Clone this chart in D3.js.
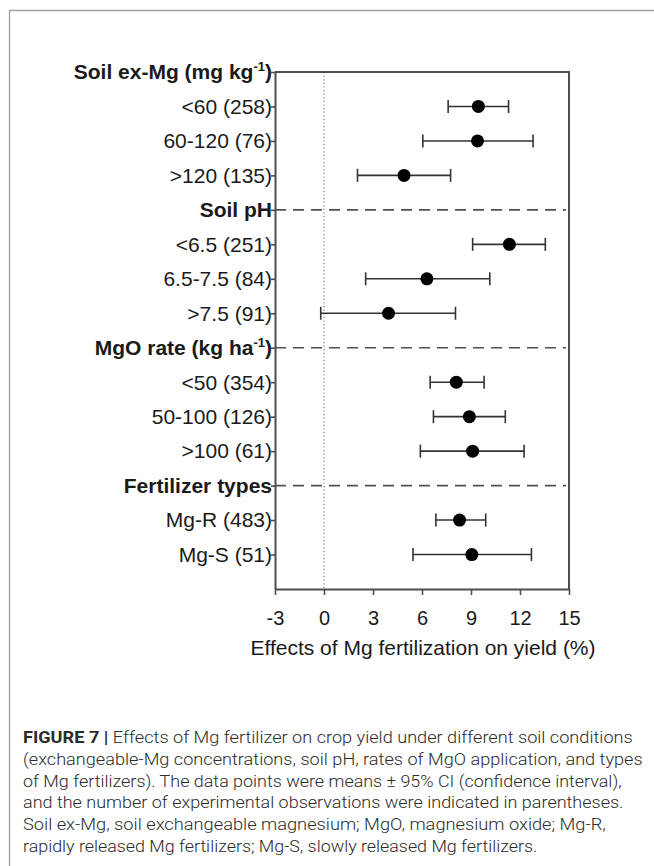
<!DOCTYPE html>
<html>
<head>
<meta charset="utf-8">
<script src="https://cdn.jsdelivr.net/npm/d3@7"></script>
<style>
  body { margin: 0; background: #fff; }
  svg { display: block; }
</style>
</head>
<body>
<div id="chart"></div>
<script>
// rows of the forest plot, top to bottom
var rowLabels = ["Soil ex-Mg (mg kg", "<60 (258)", "60-120 (76)", ">120 (135)",
    "Soil pH", "<6.5 (251)", "6.5-7.5 (84)", ">7.5 (91)",
    "MgO rate (kg ha", "<50 (354)", "50-100 (126)", ">100 (61)",
    "Fertilizer types", "Mg-R (483)", "Mg-S (51)"];
var headerSup = ["-1", null, null, null, "", null, null, null, "-1", null, null, null, "", null, null];

// mean effect and 95% CI (%)
var means = [null, 9.45, 9.4, 4.9, null, 11.35, 6.3, 3.95, null, 8.1, 8.9, 9.1, null, 8.3, 9.05];
var lower = [null, 7.6, 6.05, 2.05, null, 9.1, 2.55, -0.2, null, 6.5, 6.7, 5.9, null, 6.85, 5.45];
var upper = [null, 11.3, 12.8, 7.75, null, 13.55, 10.15, 8.05, null, 9.8, 11.1, 12.25, null, 9.9, 12.7];

var xTicks = [-3, 0, 3, 6, 9, 12, 15];
var xTitle = "Effects of Mg fertilization on yield (%)";

var captionHead = "FIGURE 7";
var captionLines = [
    "Effects of Mg fertilizer on crop yield under different soil conditions",
    "(exchangeable-Mg concentrations, soil pH, rates of MgO application, and types",
    "of Mg fertilizers). The data points were means \u00b1 95% CI (confidence interval),",
    "and the number of experimental observations were indicated in parentheses.",
    "Soil ex-Mg, soil exchangeable magnesium; MgO, magnesium oxide; Mg-R,",
    "rapidly released Mg fertilizers; Mg-S, slowly released Mg fertilizers."
];
var captionEnds = [633, 643, 622, 624, 606, 538];

var width = 654,
    height = 866;

var svg = d3.select("#chart").append("svg")
    .attr("width", width)
    .attr("height", height);

// figure border (left + top only)
svg.append("path")
    .attr("d", "M9.5,866 L9.5,10.5 L654,10.5")
    .attr("fill", "none")
    .attr("stroke", "#a0a0a0")
    .attr("stroke-width", 1.3);

var x = d3.scaleLinear().domain([-3, 15]).range([275, 569]);
var y = d3.scalePoint().domain(d3.range(16)).range([72, 589]);

var axisCol = "#4d4d4d";
var fontFam = "'Liberation Sans', Arial, sans-serif";

// zero line
svg.append("line")
    .attr("x1", x(0)).attr("x2", x(0))
    .attr("y1", y(0)).attr("y2", y(15))
    .attr("stroke", "#777")
    .attr("stroke-width", 1.2)
    .attr("stroke-dasharray", "1.2,2.4");

// dashed separators at group headers
var headerIdx = d3.range(rowLabels.length).filter(function (i) { return headerSup[i] !== null; });
svg.selectAll(".sep")
    .data(headerIdx.slice(1))
    .enter().append("line")
    .attr("class", "sep")
    .attr("x1", x(-3)).attr("x2", x(15) - 3)
    .attr("y1", function (d) { return y(d); })
    .attr("y2", function (d) { return y(d); })
    .attr("stroke", "#505050")
    .attr("stroke-width", 1.7)
    .attr("stroke-dasharray", "11,7");

// frame: top and right
svg.append("path")
    .attr("d", "M" + x(-3) + "," + y(0) + "H" + x(15) + "V" + y(15))
    .attr("fill", "none")
    .attr("stroke", axisCol)
    .attr("stroke-width", 2);

// y axis with ticks only
var yAxis = svg.append("g")
    .attr("transform", "translate(" + x(-3) + ",0)")
    .call(d3.axisLeft(y).tickValues(d3.range(15)).tickSize(4).tickSizeOuter(0).tickFormat(""));
yAxis.select(".domain").attr("stroke", axisCol).attr("stroke-width", 2);
yAxis.selectAll(".tick line").attr("stroke", axisCol).attr("stroke-width", 1.6);

// row labels
var lab = svg.append("g")
    .attr("font-family", fontFam)
    .attr("font-size", 21)
    .attr("fill", "#1a1a1a")
    .attr("text-anchor", "end")
    .selectAll("text")
    .data(rowLabels)
    .enter().append("text")
    .attr("x", x(-3) - 3)
    .attr("y", function (d, i) { return y(i); })
    .attr("dy", "0.35em")
    .attr("font-weight", function (d, i) { return headerSup[i] !== null ? "bold" : "normal"; });

lab.each(function (d, i) {
    var t = d3.select(this);
    t.append("tspan").text(d);
    if (headerSup[i]) {
        t.append("tspan").attr("font-size", 13).attr("dy", -8).text(headerSup[i]);
        t.append("tspan").attr("dy", 8).text(")");
    }
});

// x axis
var xAxis = svg.append("g")
    .attr("transform", "translate(0," + y(15) + ")")
    .call(d3.axisBottom(x).tickValues(xTicks).tickSize(6).tickSizeOuter(0).tickPadding(16)
        .tickFormat(function (d) { return String(d); }));
xAxis.select(".domain").attr("stroke", axisCol).attr("stroke-width", 2);
xAxis.selectAll(".tick line").attr("stroke", axisCol).attr("stroke-width", 1.6);
xAxis.selectAll("text")
    .attr("font-family", fontFam)
    .attr("font-size", 20)
    .attr("fill", "#1a1a1a");

svg.append("text")
    .attr("x", (x(-3) + x(15)) / 2 + 1)
    .attr("y", 655)
    .attr("text-anchor", "middle")
    .attr("font-family", fontFam)
    .attr("font-size", 21)
    .attr("fill", "#1a1a1a")
    .text(xTitle);

// error bars + means
var rows = d3.range(rowLabels.length).filter(function (i) { return means[i] !== null; });
var bars = svg.append("g").attr("stroke", "#333").attr("stroke-width", 1.6);
rows.forEach(function (i) {
    var cy = y(i);
    bars.append("line").attr("x1", x(lower[i])).attr("x2", x(upper[i])).attr("y1", cy).attr("y2", cy);
    bars.append("line").attr("x1", x(lower[i])).attr("x2", x(lower[i])).attr("y1", cy - 6.5).attr("y2", cy + 6.5);
    bars.append("line").attr("x1", x(upper[i])).attr("x2", x(upper[i])).attr("y1", cy - 6.5).attr("y2", cy + 6.5);
});
svg.append("g").selectAll("circle")
    .data(rows)
    .enter().append("circle")
    .attr("cx", function (i) { return x(means[i]); })
    .attr("cy", function (i) { return y(i); })
    .attr("r", 6.5)
    .attr("fill", "#000");

// caption, each line stretched to its width in the original
var cap = svg.append("g")
    .attr("font-family", "Roboto, 'Liberation Sans', sans-serif")
    .attr("font-weight", 300)
    .attr("font-size", 16)
    .attr("fill", "#2b2b2b");

captionLines.forEach(function (line, i) {
    var g = cap.append("g");
    var t = g.append("text").attr("x", 0).attr("y", 0);
    if (i === 0) {
        t.append("tspan").attr("font-weight", "bold").text(captionHead + " | ");
    }
    t.append("tspan").text(line);
    var w = t.node().getComputedTextLength();
    var sx = (captionEnds[i] - 23) / w;
    g.attr("transform", "translate(23," + (743 + i * 21.8) + ") scale(" + sx + ",1)");
});
</script>
</body>
</html>
